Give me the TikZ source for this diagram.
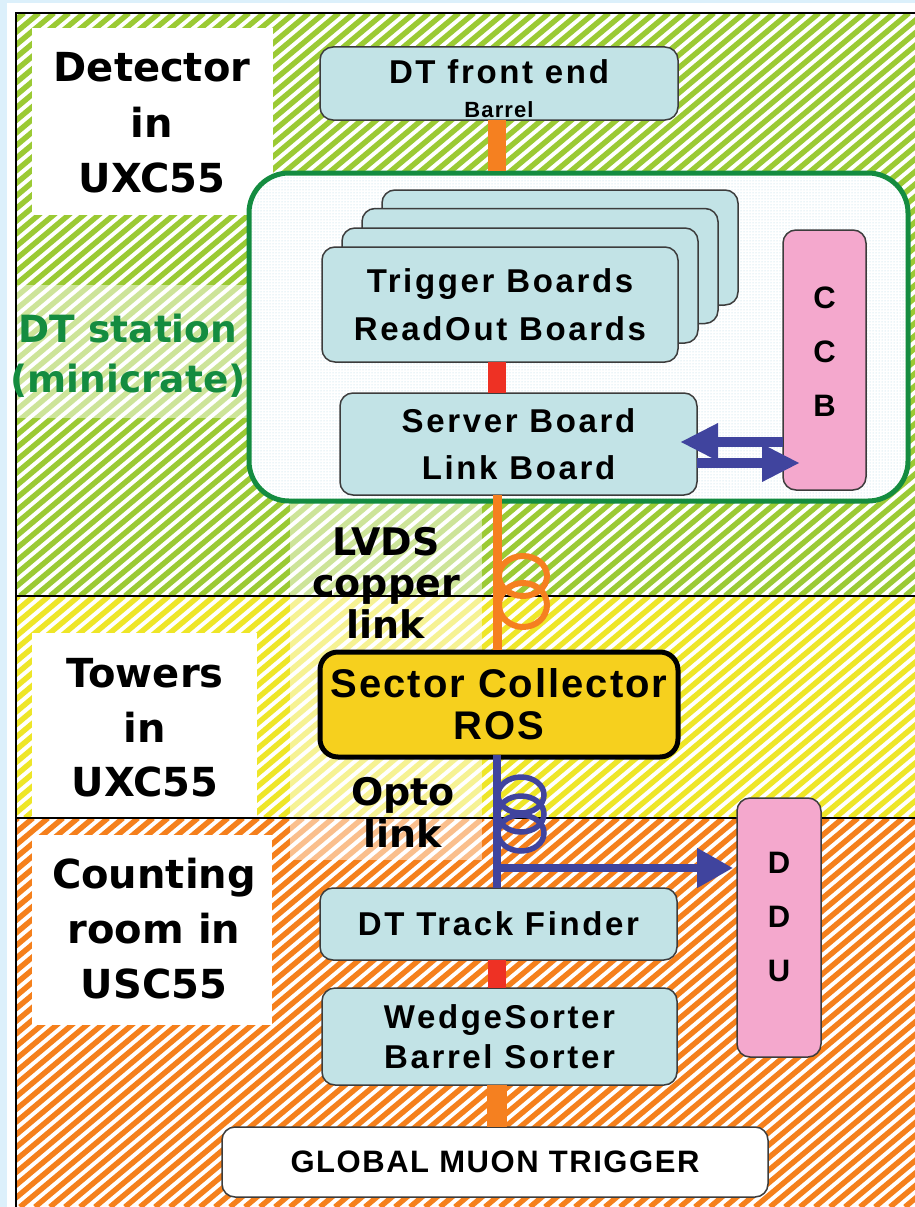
\documentclass[tikz,border=0pt]{standalone}
\usepackage{fontspec}
\usetikzlibrary{arrows.meta,patterns,calc}
\newfontfamily\comic{DejaVu Sans}
\newfontfamily\goth{Liberation Sans}[LetterSpace=8]
\newfontfamily\gothS{Liberation Sans}[LetterSpace=5]
\definecolor{bgblue}{RGB}{220,240,251}
\definecolor{hgreen}{RGB}{155,202,52}
\definecolor{hyellow}{RGB}{238,230,40}
\definecolor{horange}{RGB}{245,128,28}
\definecolor{boxblue}{RGB}{194,227,230}
\definecolor{boxline}{RGB}{60,60,60}
\definecolor{pinkc}{RGB}{244,168,205}
\definecolor{stgreen}{RGB}{20,140,64}
\definecolor{linkblue}{RGB}{64,68,158}
\definecolor{lorange}{RGB}{245,128,32}
\definecolor{lred}{RGB}{238,49,36}
\definecolor{scyellow}{RGB}{246,208,30}
\definecolor{dotblue}{RGB}{175,215,228}
\tikzset{
  bluebox/.style={draw=boxline, line width=1.5pt, fill=boxblue, rounded corners=13pt,
    inner sep=0pt, outer sep=0pt, align=center, font=\goth\bfseries\fontsize{33}{48}\selectfont},
  pinkbox/.style={draw=boxline, line width=1.5pt, fill=pinkc, rounded corners=13pt,
    inner sep=0pt, outer sep=0pt},
  pinkletters/.style={align=center, font=\goth\bfseries\fontsize{31}{54}\selectfont},
  zonelabel/.style={align=center, font=\comic\bfseries\fontsize{40}{55.5}\selectfont},
  linklabel/.style={align=center, font=\comic\bfseries\fontsize{38}{41.5}\selectfont},
  whitelabel/.style={fill=white},
  hatchline/.style={line width=5.4pt},
  thickwire/.style={line width=18pt},
  thinwire/.style={line width=9pt},
  coilring/.style={line width=6pt},
  bigarrow/.style={line width=10pt, -{Triangle[length=38pt,width=35pt]}},
}
\begin{document}
\begin{tikzpicture}[x=1pt,y=-1pt]
\useasboundingbox (0,0) rectangle (915,1207);
\fill[bgblue] (0,0) rectangle (915,1207);
\fill[white] (7,3) rectangle (915,1207);
% hatched bands (stripes at about 40 degrees)
\begin{scope}
  \clip (16,13) rectangle (915,596);
  \foreach \x in {-700,-685,...,930} \draw[hgreen,hatchline] (\x,596) -- ++(694,-583);
\end{scope}
\begin{scope}
  \clip (16,596) rectangle (915,818);
  \foreach \x in {-260,-245,...,930} \draw[hyellow,hatchline] (\x,818) -- ++(264,-222);
\end{scope}
\begin{scope}
  \clip (16,818) rectangle (915,1207);
  \foreach \x in {-460,-445,...,930} \draw[horange,hatchline] (\x,1207) -- ++(463,-389);
\end{scope}
% lighter overlays behind labels
\fill[white,opacity=0.5] (16,285) rectangle (250,418);
\fill[white,opacity=0.5] (290,503) rectangle (482,860);
% white label backgrounds
\fill[whitelabel] (32,28) rectangle (273,215);
\fill[whitelabel] (32,633) rectangle (257,818);
\fill[whitelabel] (32,835) rectangle (272,1025);
% frame lines
\draw[line width=1.5pt] (16,1207) -- (16,13) -- (915,13);
\draw[line width=1.2pt] (16,596) -- (915,596);
\draw[line width=1.2pt] (16,818) -- (915,818);
% zone labels
\node[zonelabel] (detlbl) at (152,123) {Detector\\in\\UXC55};
\node[zonelabel, text=stgreen, font=\comic\bfseries\fontsize{37.5}{50}\selectfont] (stlbl) at (128,356) {DT station\\(minicrate)};
\node[zonelabel, font=\comic\bfseries\fontsize{40}{54.5}\selectfont] (towlbl) at (145,728) {Towers\\in\\UXC55};
\node[zonelabel, font=\comic\bfseries\fontsize{40}{55}\selectfont] (cntlbl) at (154,928.5) {Counting\\room in\\USC55};
% DT station container
\fill[white, rounded corners=40pt] (249,173) rectangle (908,501);
\fill[pattern=dots, pattern color=dotblue, rounded corners=40pt] (249,173) rectangle (908,501);
\node[draw=stgreen, line width=5pt, rounded corners=40pt, minimum width=659pt, minimum height=328pt,
  inner sep=0pt, outer sep=0pt] (station) at (578.5,337) {};
% front end
\node[bluebox, minimum width=358pt, minimum height=73pt] (fe) at (499,83.5) {};
\node[font=\goth\bfseries\fontsize{33}{40}\selectfont] (fetext) at (499,72) {DT front end};
\node[font=\gothS\bfseries\fontsize{22}{24}\selectfont] (barrel) at (499,110) {Barrel};
\coordinate (spine) at (497,0);
\draw[lorange, thickwire] (fe.south -| spine) -- ([yshift=2.5pt]station.north -| spine);
% stacked boards
\node[bluebox, minimum width=356pt, minimum height=115pt] (card4) at (560,247.5) {};
\node[bluebox, minimum width=356pt, minimum height=115pt] (card3) at (540,266) {};
\node[bluebox, minimum width=356pt, minimum height=115pt] (card2) at (520,285.5) {};
\node[bluebox, minimum width=356pt, minimum height=115pt] (trig) at (500,304.5) {Trigger Boards\\ReadOut Boards};
% server board
\node[bluebox, minimum width=357pt, minimum height=102pt, font=\goth\bfseries\fontsize{33}{47}\selectfont] (serv) at (518.5,444) {Server Board\\Link Board};
\draw[lred, thickwire] (trig.south -| spine) -- (serv.north -| spine);
% CCB
\node[pinkbox, minimum width=83pt, minimum height=260pt] (ccb) at (824.5,360) {};
\node[pinkletters] (ccbtext) at (824.5,352) {C\\C\\B};
\draw[linkblue, bigarrow] (ccb.west |- 0,442) -- ([xshift=-17pt]serv.east |- 0,442);
\draw[linkblue, bigarrow] (serv.east |- 0,463) -- ([xshift=17pt]ccb.west |- 0,463);
% sector collector
\node[draw=black, line width=5pt, fill=scyellow, rounded corners=18pt, minimum width=358pt, minimum height=105pt,
  inner sep=0pt, outer sep=0pt, align=center, font=\gothS\bfseries\fontsize{40}{42}\selectfont] (sc) at (499,704.5) {Sector Collector\\ROS};
\draw[lorange, thinwire] (serv.south -| spine) -- ([yshift=2.5pt]sc.north -| spine);
\draw[lorange, coilring] (523,576) ellipse [x radius=24pt, y radius=20pt];
\draw[lorange, coilring] (523,605) ellipse [x radius=24pt, y radius=22pt];
\node[linklabel] (lvds) at (386,582.5) {LVDS\\copper\\link};
% DDU
\node[pinkbox, minimum width=84pt, minimum height=259pt] (ddu) at (779,927.5) {};
\node[pinkletters] (ddutext) at (779,917) {D\\D\\U};
% track finder, sorter, GMT
\node[bluebox, minimum width=357pt, minimum height=72pt] (tf) at (498.5,924) {DT Track Finder};
\node[bluebox, minimum width=355pt, minimum height=97pt, font=\goth\bfseries\fontsize{33}{40}\selectfont] (ws) at (499.5,1036.5) {WedgeSorter\\Barrel Sorter};
\node[draw=boxline, line width=1.5pt, fill=white, rounded corners=13pt, minimum width=546pt, minimum height=70pt,
  inner sep=0pt, outer sep=0pt, font=\gothS\bfseries\fontsize{31}{36}\selectfont] (gmt) at (495,1162) {GLOBAL MUON TRIGGER};
\draw[linkblue, line width=8pt] ([yshift=2.5pt]sc.south -| spine) -- (tf.north -| spine);
\foreach \cy in {795,814,833} \draw[linkblue, line width=5.5pt] (521,\cy) ellipse [x radius=23pt, y radius=18pt];
\coordinate (branch) at (497,868);
\draw[linkblue, line width=8pt, -{Triangle[length=36pt,width=38pt]}, shorten >=4pt] (branch) -- (branch -| ddu.west);
\node[linklabel] (opto) at (403,812.5) {Opto\\link};
\draw[lred, thickwire] (tf.south -| spine) -- (ws.north -| spine);
\draw[lorange, line width=20pt] (ws.south -| spine) -- (gmt.north -| spine);
\end{tikzpicture}
\end{document}
